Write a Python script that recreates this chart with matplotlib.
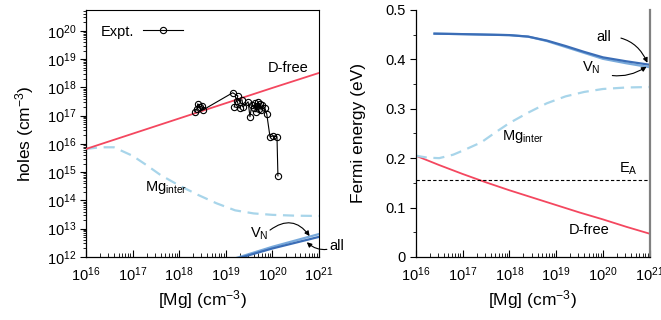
import numpy as np
import matplotlib
matplotlib.use('Agg')
import matplotlib.pyplot as plt
from matplotlib.ticker import LogLocator, FixedLocator, NullFormatter, FuncFormatter

plt.rcParams['font.family'] = ['Liberation Sans', 'DejaVu Sans']
plt.rcParams['mathtext.fontset'] = 'custom'
plt.rcParams['mathtext.rm'] = 'Liberation Sans'
plt.rcParams['mathtext.it'] = 'Liberation Sans:italic'
plt.rcParams['mathtext.default'] = 'regular'

RED = '#f4475f'
LBLUE = '#a8d5ea'
BLUE = '#3b6db6'
VBLUE = '#79aadb'

# ---- left panel: hole density (log10 values) ----
mg_dfree = [16.0, 17.0, 18.0, 19.0, 20.0, 21.0]
p_dfree = [15.82, 16.36, 16.90, 17.44, 17.98, 18.51]

mg_inter = [16.0, 16.3, 16.6, 17.0, 17.3, 17.6, 18.0, 18.4, 18.8, 19.2, 19.6, 20.0, 20.5, 21.0]
p_inter = [15.82, 15.88, 15.88, 15.58, 15.25, 14.9, 14.53, 14.2, 13.9, 13.65, 13.54, 13.49, 13.46, 13.45]

mg_blue = [19.2, 20.0, 21.0]
p_all = [11.92, 12.30, 12.71]
p_vn = [11.95, 12.36, 12.81]

# experimental points (log10 [Mg], log10 holes)
expt_mg = [18.34, 18.38, 18.40, 18.45, 18.49, 18.51, 19.15, 19.26, 19.18, 19.30,
           19.24, 19.35, 19.37, 19.48, 19.52, 19.56, 19.61, 19.63, 19.65, 19.67,
           19.69, 19.71, 19.73, 19.76, 19.78, 19.84, 19.88, 19.95, 20.01, 20.10, 20.12]
expt_p = [17.13, 17.24, 17.42, 17.31, 17.35, 17.20, 17.81, 17.70, 17.31, 17.27,
          17.52, 17.56, 17.31, 17.49, 16.96, 17.38, 17.27, 17.45, 17.13, 17.35,
          17.49, 17.24, 17.42, 17.20, 17.38, 17.27, 17.06, 16.25, 16.28, 16.25, 14.87]

# ---- right panel: Fermi energy (eV) ----
ef_mg_dfree = [16.0, 16.5, 17.0, 17.5, 18.0, 18.5, 19.0, 19.5, 20.0, 20.5, 21.0]
ef_dfree = [0.205, 0.186, 0.168, 0.151, 0.135, 0.120, 0.105, 0.090, 0.076, 0.061, 0.047]

ef_mg_inter = [16.0, 16.25, 16.5, 16.8, 17.0, 17.4, 17.7, 18.0, 18.4, 18.8, 19.2, 19.6, 20.0, 20.5, 21.0]
ef_inter = [0.205, 0.201, 0.200, 0.207, 0.215, 0.232, 0.252, 0.271, 0.292, 0.311, 0.325, 0.334, 0.340, 0.343, 0.344]

ef_mg_blue = [16.4, 17.0, 17.5, 18.0, 18.4, 18.8, 19.2, 19.6, 20.0, 20.5, 21.0]
ef_all = [0.452, 0.451, 0.450, 0.449, 0.446, 0.438, 0.427, 0.415, 0.404, 0.396, 0.389]
ef_vn = [0.452, 0.451, 0.450, 0.449, 0.446, 0.437, 0.425, 0.413, 0.401, 0.392, 0.384]

E_A = 0.155


def tp(v):
    return 10.0 ** np.array(v)


fig = plt.figure(figsize=(6.61, 3.2), dpi=100)
ax1 = fig.add_axes([0.130, 0.197, 0.3525, 0.772])
ax2 = fig.add_axes([0.629, 0.197, 0.354, 0.772])

# left
ax1.plot(tp(mg_dfree), tp(p_dfree), color=RED, lw=1.3, zorder=3)
ax1.plot(tp(mg_inter), tp(p_inter), color=LBLUE, lw=1.6, dashes=(5, 3))
ax1.plot(tp(mg_blue), tp(p_vn), color=VBLUE, lw=1.6)
ax1.plot(tp(mg_blue), tp(p_all), color=BLUE, lw=1.6)
ax1.plot(tp(expt_mg), tp(expt_p), color='black', lw=0.8, marker='o', ms=4.5,
         mfc='none', mec='black', mew=0.8, label='Expt.', zorder=4)

ax1.set_xscale('log')
ax1.set_yscale('log')
ax1.set_xlim(1e16, 1e21)
ax1.set_ylim(1e12, 10 ** 20.74)
ax1.yaxis.set_major_locator(LogLocator(base=10, numticks=20))
ax1.yaxis.set_minor_locator(LogLocator(base=10, subs=np.arange(2, 10), numticks=20))
ax1.yaxis.set_minor_formatter(NullFormatter())
ax1.set_ylabel('holes (cm$^{-3}$)', fontsize=12.5, labelpad=8)
ax1.set_xlabel('[Mg] (cm$^{-3}$)', fontsize=12.5, labelpad=3)
leg = ax1.legend(loc='upper left', frameon=False, markerfirst=False, fontsize=10.5,
                 handlelength=2.8, borderaxespad=0.6, handletextpad=0.6)

ax1.text(10 ** 20.33, 10 ** 18.68, 'D-free', fontsize=10.5, ha='center', va='center')
ax1.text(10 ** 17.72, 10 ** 14.44, '$Mg_{inter}$', fontsize=10.5, ha='center', va='center')
ax1.text(10 ** 19.72, 10 ** 12.82, '$V_N$', fontsize=10.5, ha='center', va='center')
ax1.annotate('', xy=(10 ** 20.8, 10 ** 12.74), xytext=(10 ** 19.95, 10 ** 12.95),
             arrowprops=dict(arrowstyle='-|>', color='black', lw=0.8, mutation_scale=7,
                             connectionstyle='arc3,rad=-0.5', shrinkA=0, shrinkB=0))
ax1.annotate('all', xy=(10 ** 20.74, 10 ** 12.52), xytext=(10 ** 21.23, 10 ** 12.39),
             fontsize=10.5, ha='left', va='center', annotation_clip=False,
             arrowprops=dict(arrowstyle='-|>', color='black', lw=0.8, mutation_scale=7,
                             connectionstyle='arc3,rad=-0.35', shrinkA=0, shrinkB=0))

# right
ax2.plot(tp(ef_mg_dfree), ef_dfree, color=RED, lw=1.3)
ax2.plot(tp(ef_mg_inter), ef_inter, color=LBLUE, lw=1.6, dashes=(5, 3))
ax2.plot(tp(ef_mg_blue), ef_vn, color=VBLUE, lw=1.6)
ax2.plot(tp(ef_mg_blue), ef_all, color=BLUE, lw=1.6)
ax2.axhline(E_A, color='black', lw=0.8, ls=(0, (3, 2)))

ax2.set_xscale('log')
ax2.set_xlim(1e16, 1e21)
ax2.set_ylim(0, 0.5)
ax2.yaxis.set_major_locator(FixedLocator([0, 0.1, 0.2, 0.3, 0.4, 0.5]))
ax2.yaxis.set_minor_locator(FixedLocator([0.05, 0.15, 0.25, 0.35, 0.45]))
ax2.yaxis.set_major_formatter(FuncFormatter(lambda v, p: '0' if v == 0 else '%.1f' % v))
ax2.set_ylabel('Fermi energy (eV)', fontsize=12.5, labelpad=14)
ax2.set_xlabel('[Mg] (cm$^{-3}$)', fontsize=12.5, labelpad=3)
ax2.spines['top'].set_visible(False)
ax2.spines['right'].set_color('#808080')
ax2.spines['right'].set_linewidth(1.6)

ax2.text(10 ** 18.29, 0.243, '$Mg_{inter}$', fontsize=10.5, ha='center', va='center')
ax2.text(10 ** 19.7, 0.055, 'D-free', fontsize=10.5, ha='center', va='center')
ax2.text(10 ** 20.55, 0.178, '$E_A$', fontsize=10.5, ha='center', va='center')
ax2.annotate('all', xy=(10 ** 20.95, 0.393), xytext=(10 ** 20.02, 0.446),
             fontsize=10.5, ha='center', va='center',
             arrowprops=dict(arrowstyle='-|>', color='black', lw=0.8, mutation_scale=7,
                             connectionstyle='arc3,rad=-0.35', shrinkA=5, shrinkB=0))
ax2.annotate('$V_N$', xy=(10 ** 20.93, 0.385), xytext=(10 ** 19.74, 0.382),
             fontsize=10.5, ha='center', va='center',
             arrowprops=dict(arrowstyle='-|>', color='black', lw=0.8, mutation_scale=7,
                             connectionstyle='arc3,rad=0.3', shrinkA=7, shrinkB=0))

sci = FuncFormatter(lambda v, p: '$10^{%d}$' % int(round(np.log10(v))))
for ax in (ax1, ax2):
    ax.xaxis.set_major_locator(LogLocator(base=10, numticks=10))
    ax.xaxis.set_minor_locator(LogLocator(base=10, subs=np.arange(2, 10), numticks=10))
    ax.xaxis.set_major_formatter(sci)
    ax.xaxis.set_minor_formatter(NullFormatter())
    ax.tick_params(axis='x', which='major', direction='in', length=5, width=0.8,
                   labelsize=10.5, pad=6)
    ax.tick_params(axis='x', which='minor', direction='in', length=3, width=0.6)
    ax.tick_params(axis='y', which='major', direction='out', length=4, width=0.8,
                   labelsize=10.5, pad=3)
    ax.tick_params(axis='y', which='minor', direction='out', length=2.5, width=0.6)
    for s in ('left', 'bottom'):
        ax.spines[s].set_linewidth(0.9)
ax1.yaxis.set_major_formatter(sci)
ax1.spines['top'].set_linewidth(0.8)
ax1.spines['right'].set_linewidth(0.8)

fig.savefig('out.png', dpi=100)
